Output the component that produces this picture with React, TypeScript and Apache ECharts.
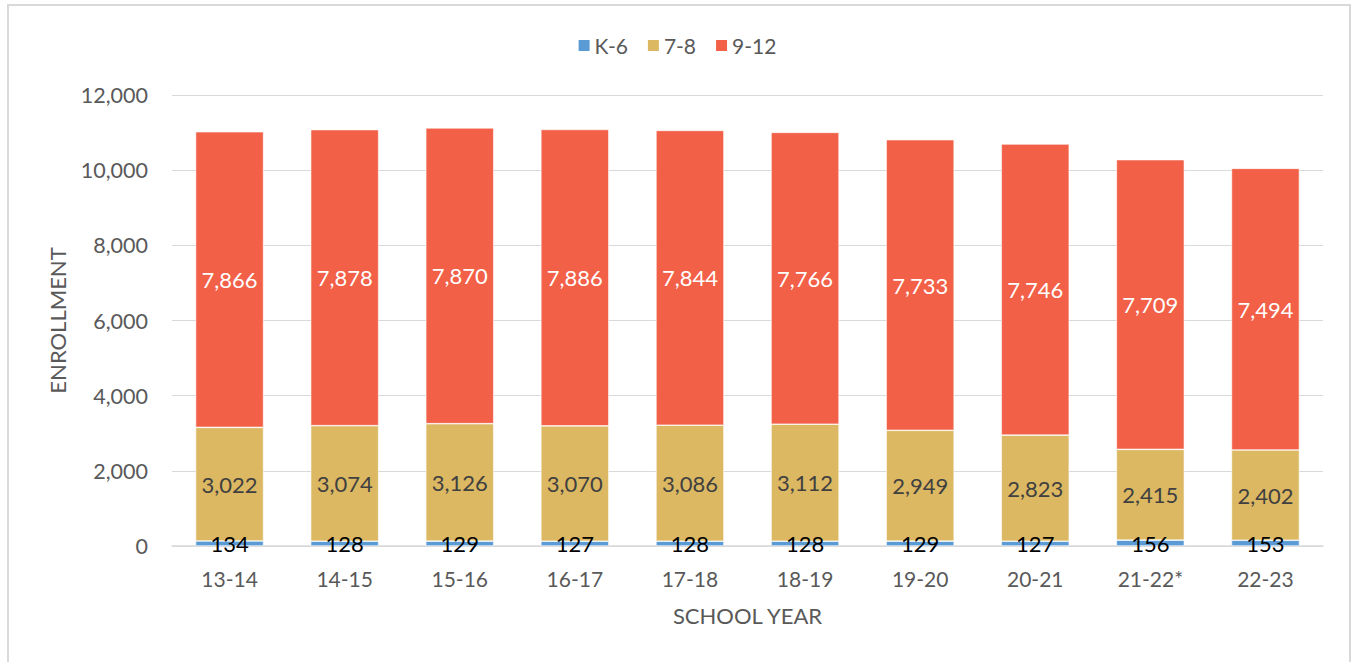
import React, { useEffect, useRef } from "react";
import * as echarts from "echarts";

const categories = ["13-14", "14-15", "15-16", "16-17", "17-18", "18-19", "19-20", "20-21", "21-22*", "22-23"];
const k6 = [134, 128, 129, 127, 128, 128, 129, 127, 156, 153];
const g78 = [3022, 3074, 3126, 3070, 3086, 3112, 2949, 2823, 2415, 2402];
const g912 = [7866, 7878, 7870, 7886, 7844, 7766, 7733, 7746, 7709, 7494];
const yTicks = [0, 2000, 4000, 6000, 8000, 10000, 12000];

const FONT = "Lato, 'Open Sans', sans-serif";
const fmt = (v: number) => v.toLocaleString("en-US");

export default function App() {
  const ref = useRef<HTMLDivElement>(null);
  useEffect(() => {
    const chart = echarts.init(ref.current!, null, { renderer: "svg" });
    const mkSeries = (name: string, data: number[], color: string, labelColor: string) => ({
      name,
      type: "bar",
      stack: "total",
      data,
      barWidth: 68,
      itemStyle: { color, borderColor: "#ffffff", borderWidth: 0.6 },
      label: {
        show: true,
        position: "inside",
        color: labelColor,
        fontFamily: FONT,
        fontSize: 22,
        formatter: (p: any) => fmt(p.value),
      },
    });
    chart.setOption({
      animation: false,
      textStyle: { fontFamily: FONT },
      graphic: [
        {
          type: "rect",
          shape: { x: 8, y: 5, width: 1342, height: 700 },
          style: { fill: "none", stroke: "#D9D9D9", lineWidth: 2 },
          silent: true,
        },
      ],
      legend: {
        top: 30,
        left: "center",
        itemWidth: 13,
        itemHeight: 13,
        itemGap: 18,
        icon: "rect",
        textStyle: { fontFamily: FONT, fontSize: 21, color: "#595959", padding: [0, 0, 0, -1] },
        data: ["K-6", "7-8", "9-12"],
      },
      grid: { left: 172, right: 30, top: 95, bottom: 116 },
      xAxis: {
        type: "category",
        data: categories,
        name: "SCHOOL YEAR",
        nameLocation: "middle",
        nameGap: 58,
        nameTextStyle: { fontFamily: FONT, fontSize: 22, color: "#595959" },
        axisLine: { lineStyle: { color: "#D9D9D9", width: 1.5 } },
        axisTick: { show: false },
        axisLabel: { fontFamily: FONT, fontSize: 21, color: "#595959", margin: 22 },
      },
      yAxis: {
        type: "value",
        min: 0,
        max: 12000,
        interval: 2000,
        name: "ENROLLMENT",
        nameLocation: "middle",
        nameGap: 104,
        nameTextStyle: { fontFamily: FONT, fontSize: 22, color: "#595959" },
        axisLine: { show: false },
        axisTick: { show: false },
        splitLine: { lineStyle: { color: "#D9D9D9", width: 1.2 } },
        axisLabel: {
          fontFamily: FONT,
          fontSize: 21.5,
          color: "#595959",
          margin: 24,
          formatter: (v: number) => (yTicks.includes(v) ? fmt(v) : ""),
        },
      },
      series: [
        mkSeries("K-6", k6, "#5B9BD5", "#000000"),
        mkSeries("7-8", g78, "#DCB862", "#404040"),
        mkSeries("9-12", g912, "#F26048", "#FFFFFF"),
      ],
    });
    return () => chart.dispose();
  }, []);
  return (
    <div
      ref={ref}
      style={{ position: "absolute", left: 0, top: 0, width: 1353, height: 662, background: "#fff" }}
    />
  );
}
